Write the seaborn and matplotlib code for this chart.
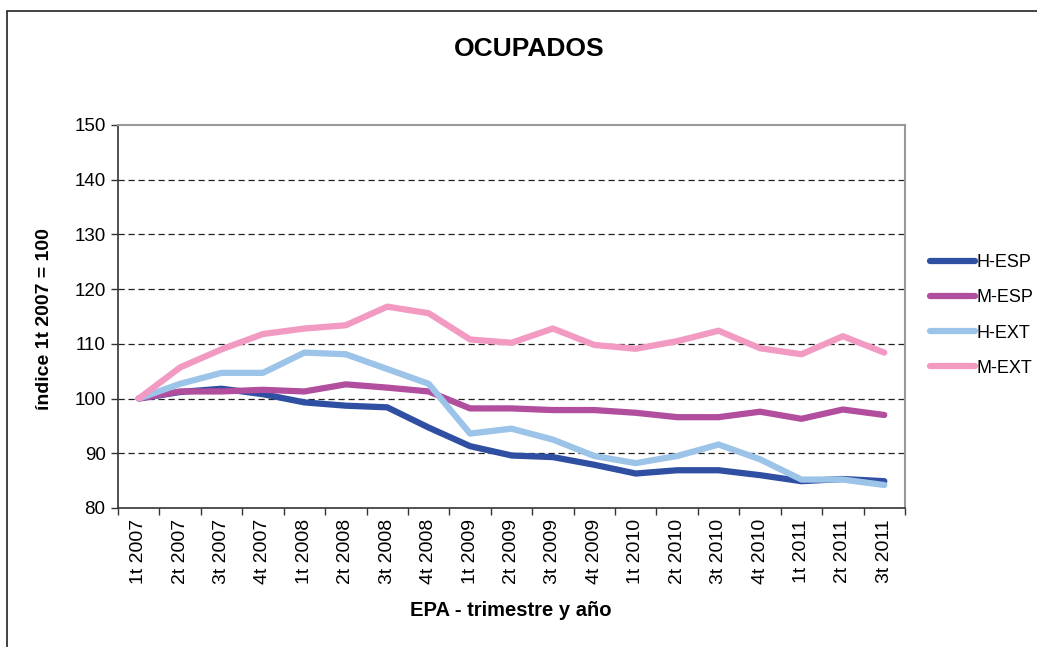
import numpy as np
import pandas as pd
import matplotlib
matplotlib.use("Agg")
import matplotlib.pyplot as plt
from matplotlib.patches import Rectangle
import seaborn as sns

quarters = ["1t 2007", "2t 2007", "3t 2007", "4t 2007",
            "1t 2008", "2t 2008", "3t 2008", "4t 2008",
            "1t 2009", "2t 2009", "3t 2009", "4t 2009",
            "1t 2010", "2t 2010", "3t 2010", "4t 2010",
            "1t 2011", "2t 2011", "3t 2011"]

h_esp = [100, 101.2, 101.8, 100.8, 99.3, 98.7, 98.4, 94.7, 91.3, 89.6,
         89.3, 87.9, 86.3, 86.9, 86.9, 86.0, 84.9, 85.3, 84.9]
m_esp = [100, 101.3, 101.3, 101.6, 101.3, 102.6, 102.0, 101.3, 98.2, 98.2,
         97.9, 97.9, 97.4, 96.6, 96.6, 97.6, 96.3, 98.0, 97.0]
h_ext = [100, 102.7, 104.7, 104.7, 108.4, 108.1, 105.4, 102.7, 93.6, 94.5,
         92.5, 89.5, 88.2, 89.5, 91.6, 88.9, 85.2, 85.2, 84.2]
m_ext = [100, 105.7, 109.0, 111.8, 112.8, 113.4, 116.8, 115.6, 110.8, 110.2,
         112.8, 109.8, 109.1, 110.5, 112.4, 109.2, 108.1, 111.4, 108.4]

series_names = ["H-ESP", "M-ESP", "H-EXT", "M-EXT"]
series_values = [h_esp, m_esp, h_ext, m_ext]
colors = {"H-ESP": "#2F4FA2", "M-ESP": "#B24E9E",
          "H-EXT": "#9CC3E8", "M-EXT": "#F29AC2"}

rows = []
for name, vals in zip(series_names, series_values):
    for i, v in enumerate(vals):
        rows.append({"pos": i, "trimestre": quarters[i], "serie": name, "valor": v})
df = pd.DataFrame(rows)

sns.set_theme(style="white")
plt.rcParams["font.family"] = ["Liberation Sans", "DejaVu Sans"]
plt.rcParams["text.color"] = "black"
plt.rcParams["axes.labelcolor"] = "black"
plt.rcParams["xtick.color"] = "black"
plt.rcParams["ytick.color"] = "black"

W, H = 1037, 647
fig = plt.figure(figsize=(W / 100, H / 100), dpi=100)
ax = fig.add_axes([118 / W, 1 - 508 / H, (905 - 118) / W, (508 - 125) / H])

sns.lineplot(data=df, x="pos", y="valor", hue="serie", hue_order=series_names,
             palette=colors, linewidth=4.5, ax=ax, legend=False,
             solid_capstyle="round", solid_joinstyle="round", zorder=3)

n = len(quarters)
ax.set_xlim(-0.5, n - 0.5)
ax.set_ylim(80, 150)
ax.set_yticks(np.arange(80, 151, 10))
ax.set_yticklabels([str(v) for v in range(80, 151, 10)], fontsize=13.5)
ax.set_xticks(np.arange(-0.5, n, 1.0))
ax.set_xticklabels([])
ax.set_xticks(np.arange(n), minor=True)
ax.set_xticklabels(quarters, minor=True, rotation=90, fontsize=14)
ax.tick_params(axis="x", which="major", direction="out", length=5, width=1, color="#333333", bottom=True)
ax.tick_params(axis="x", which="minor", length=0, pad=8, bottom=True)
ax.tick_params(axis="y", direction="out", length=5, width=1, color="#333333", left=True, pad=4)

for yv in range(90, 150, 10):
    ax.axhline(yv, color="#222222", linewidth=0.9, linestyle=(0, (5, 3)), zorder=1)

for side in ["left", "bottom"]:
    ax.spines[side].set_color("#333333")
    ax.spines[side].set_linewidth(1.2)
for side in ["top", "right"]:
    ax.spines[side].set_color("#999999")
    ax.spines[side].set_linewidth(1.5)
ax.grid(False)

ax.set_xlabel("")
ax.set_ylabel("")
fig.text(45 / W, 1 - 319 / H, "índice 1t 2007 = 100", rotation=90, fontsize=14,
         fontweight="bold", ha="center", va="center")
fig.text(511 / W, 1 - 611 / H, "EPA - trimestre y año", fontsize=14.5,
         fontweight="bold", ha="center", va="center")
fig.text(529 / W, 1 - 49 / H, "OCUPADOS", fontsize=19, fontweight="bold",
         ha="center", va="center")

handles = [plt.Line2D([], [], color=colors[s], linewidth=4.5, solid_capstyle="round")
           for s in series_names]
fig.legend(handles, series_names, loc="center left",
           bbox_to_anchor=(930 / W, 1 - 315.5 / H), frameon=False,
           fontsize=13, handlelength=2.5, handletextpad=0.1,
           labelspacing=1.0, borderpad=0, borderaxespad=0)

fig.patches.append(Rectangle((7 / W, -0.1), 1.2, 1 - 11 / H + 0.1,
                             transform=fig.transFigure, fill=False,
                             edgecolor="#222222", linewidth=1.2))

fig.savefig("out.png", dpi=100)
